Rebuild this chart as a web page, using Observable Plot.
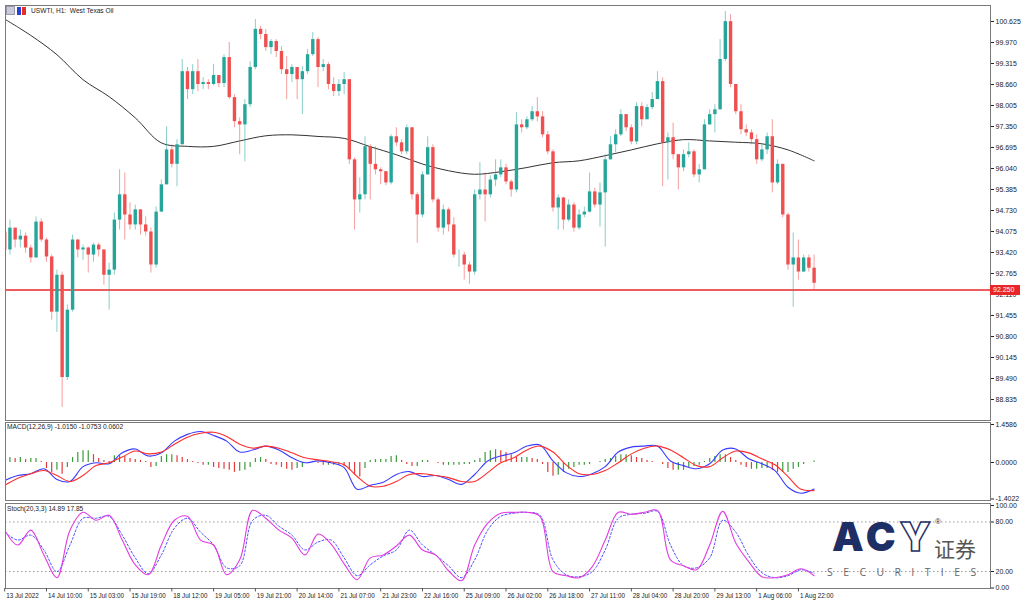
<!DOCTYPE html>
<html><head><meta charset="utf-8">
<script src="https://cdn.jsdelivr.net/npm/d3@7"></script>
<script src="https://cdn.jsdelivr.net/npm/@observablehq/plot@0.6"></script>
<style>
body{margin:0;background:#fff;}
#wrap{position:relative;width:1024px;height:605px;overflow:hidden;background:#fff;font-family:"Liberation Sans",Arial,sans-serif;}
#wrap svg{overflow:visible;}
.hdr{position:absolute;font-size:6.6px;color:#222;white-space:pre;}
#tag{position:absolute;z-index:5;background:#e8262a;color:#fff;font-size:7px;line-height:10px;height:10px;width:30px;padding-left:3px;box-sizing:border-box;}
</style></head><body><div id="wrap"></div>
<script>
// ---------------- DATA ----------------
const symbolTitle = "USWTI, H1:  West Texas Oil";
const macdTitle = "MACD(12,26,9) -1.0150 -1.0753 0.0602";
const stochTitle = "Stoch(20,3,3) 14.89 17.85";
const currentPrice = 92.250;

const xLabels = ["13 Jul 2022","14 Jul 10:00","15 Jul 03:00","15 Jul 19:00","18 Jul 12:00","19 Jul 05:00","19 Jul 21:00","20 Jul 14:00","21 Jul 07:00","21 Jul 23:00","22 Jul 16:00","25 Jul 09:00","26 Jul 02:00","26 Jul 18:00","27 Jul 11:00","28 Jul 04:00","28 Jul 20:00","29 Jul 13:00","1 Aug 06:00","1 Aug 22:00"];
const barsPerLabel = 8;

const priceTicks = [100.625,99.970,99.315,98.660,98.005,97.350,96.695,96.040,95.385,94.730,94.075,93.420,92.765,92.110,91.455,90.800,90.145,89.490,88.835];
const macdTicks = [1.4586, 0, -1.4022];
const stochTicks = [100, 80, 20, 0];
const stochLevels = [80, 20];

const firstOpen = 94.06;
const closes = [93.50,94.18,93.81,93.93,93.56,93.25,94.37,93.81,93.28,91.56,
92.71,89.52,91.62,93.81,93.50,93.56,93.34,93.65,93.50,92.71,
92.87,94.43,95.22,94.59,94.28,94.75,94.28,94.06,93.03,94.68,
95.53,96.62,96.17,96.78,99.06,98.50,99.06,98.66,98.72,98.66,
98.94,98.69,99.50,98.25,97.50,97.40,98.03,99.19,100.38,100.22,
99.81,100.00,99.69,99.12,98.97,99.19,98.81,99.06,99.59,100.06,
99.19,99.28,98.66,98.44,98.66,98.81,96.31,95.06,95.22,96.72,
96.17,96.00,95.94,95.59,97.03,96.84,96.56,97.31,95.22,94.59,
95.84,96.69,95.06,94.18,94.75,94.28,93.34,93.34,93.03,92.81,
95.22,95.37,95.22,95.68,95.84,96.06,95.62,95.37,97.40,97.31,
97.56,97.81,97.65,97.09,96.56,94.81,95.12,94.43,94.90,94.18,
94.59,94.68,95.31,94.90,95.28,96.31,96.78,97.09,97.72,97.31,
96.87,97.97,97.56,97.94,98.19,98.75,96.84,97.00,96.47,96.06,
96.47,96.56,95.84,96.00,97.40,97.72,97.87,99.44,100.62,98.66,
97.81,97.25,97.15,96.94,96.31,96.62,97.03,95.59,96.17,94.59,
93.03,93.25,92.81,93.25,92.93,92.46];
const highs = [94.68,94.43,94.18,94.12,94.03,93.65,94.53,94.47,93.87,93.34,
92.87,92.81,91.78,93.96,93.81,93.65,93.59,93.71,93.71,93.50,
93.09,94.65,96.00,95.90,94.97,94.90,94.75,94.53,94.18,94.84,
95.68,97.34,96.78,96.94,99.44,99.19,99.28,99.44,98.87,98.81,
99.28,98.87,99.59,99.97,98.34,97.62,98.19,99.37,100.69,100.47,
100.38,100.06,100.06,99.84,99.53,99.28,99.12,99.22,99.75,100.28,
100.12,99.44,99.34,98.87,98.81,99.03,98.81,96.37,95.75,97.03,
96.78,96.72,96.06,95.94,97.09,97.31,96.94,97.40,97.31,95.28,
95.94,97.03,96.78,95.12,94.90,94.81,94.50,93.50,93.43,93.12,
95.37,96.22,95.90,95.81,96.31,96.31,96.17,95.68,97.78,97.56,
97.65,97.97,98.25,97.81,97.19,96.62,95.22,95.15,95.06,94.97,
94.75,94.84,95.90,95.43,95.59,96.47,97.03,97.25,97.87,97.72,
97.40,98.09,98.09,98.03,98.41,99.06,98.87,97.15,97.46,96.47,
96.62,96.84,96.62,96.17,97.56,97.87,98.03,100.06,100.94,100.84,
98.66,98.03,97.40,97.25,97.09,96.78,97.15,97.56,96.31,96.17,
94.65,94.03,93.81,93.34,93.34,93.34];
const lows = [93.25,93.34,93.56,93.56,93.40,93.09,93.25,93.74,93.12,91.31,
90.93,88.59,89.43,91.56,93.25,93.18,92.78,93.12,93.28,92.40,
91.62,92.71,94.12,93.81,94.12,94.12,93.96,93.93,92.78,92.93,
94.68,95.53,96.06,95.47,96.78,98.19,98.34,98.44,98.50,98.50,
98.62,98.56,98.56,98.19,97.31,96.47,96.25,97.94,99.12,100.06,
99.69,99.59,99.50,98.97,98.19,98.72,98.19,97.72,98.97,99.53,
98.56,99.06,98.50,98.28,98.28,98.34,96.17,94.12,94.65,95.06,
95.06,95.84,95.53,95.50,95.53,96.72,96.47,96.47,95.06,93.71,
94.50,95.84,94.97,94.06,93.96,94.06,93.25,92.96,92.56,92.43,
92.71,95.06,94.37,95.12,95.47,95.75,95.53,95.15,95.28,97.15,
97.25,97.50,97.50,97.00,96.47,94.68,94.12,94.12,94.37,94.06,
94.12,94.50,94.65,94.81,94.21,93.59,96.31,96.53,97.03,97.19,
96.78,96.78,97.34,97.56,97.87,98.19,95.47,95.68,96.31,95.37,
95.94,96.37,95.75,95.59,96.00,97.40,97.15,97.87,99.37,98.56,
97.72,97.09,97.03,96.78,96.17,96.25,96.47,95.28,95.53,94.50,
92.87,91.71,92.56,92.81,92.81,92.24];

// moving average, one value every 5 bars (bars 0,5,...,155)
const maStep = 5;
const maValues = [100.70,100.19,99.59,98.81,98.28,97.62,96.84,96.73,96.73,96.90,
97.06,97.09,97.04,96.98,96.72,96.47,96.18,95.97,95.86,95.94,
96.07,96.22,96.28,96.44,96.62,96.81,96.94,96.90,96.86,96.81,
96.62,96.28];

// MACD lines, one value every 2.5 bars
const lineStep = 2.5;
const macdMain = [-0.69,-0.50,-0.43,-0.24,-0.65,-0.73,-0.16,-0.01,-0.05,0.37,
0.52,0.25,0.37,0.82,1.08,1.19,1.04,0.82,0.40,0.48,
0.63,0.48,0.18,-0.01,0.06,-0.01,-0.20,-1.03,-0.88,-0.76,
-0.46,-0.35,-0.54,-0.50,-0.65,-0.84,-0.46,0.06,0.25,0.37,
0.63,0.67,0.06,-0.39,-0.54,-0.43,-0.16,0.40,0.59,0.63,
0.63,0.06,-0.12,-0.24,-0.05,0.48,0.52,0.14,-0.05,-0.31,
-0.95,-1.18,-1.02];
const macdSignal = [-0.88,-0.61,-0.43,-0.31,-0.50,-0.73,-0.50,-0.12,-0.01,0.21,
0.44,0.33,0.40,0.70,0.97,1.12,1.16,1.00,0.70,0.55,
0.63,0.55,0.37,0.18,0.10,0.03,-0.09,-0.54,-0.91,-0.91,
-0.73,-0.46,-0.43,-0.50,-0.58,-0.73,-0.73,-0.39,-0.01,0.18,
0.48,0.63,0.40,-0.09,-0.43,-0.46,-0.31,-0.01,0.33,0.55,
0.63,0.48,0.18,-0.12,-0.16,0.18,0.44,0.37,0.14,-0.09,
-0.54,-1.03,-1.08];
// MACD histogram, one value per bar
const macdHist = [0.19,0.19,0.15,0.19,0.11,0.15,0.15,0.04,-0.23,-0.38,
-0.30,-0.45,-0.19,0.19,0.38,0.45,0.45,0.30,0.15,0.08,
0.04,0.26,0.26,0.23,0.15,0.11,0.08,0.04,-0.19,-0.15,
0.23,0.30,0.30,0.26,0.19,0.11,0.04,-0.04,-0.11,-0.11,
-0.19,-0.23,-0.26,-0.30,-0.38,-0.34,-0.30,-0.19,0.15,0.19,
0.11,-0.08,-0.11,-0.19,-0.26,-0.30,-0.23,-0.19,0.00,0.04,
-0.04,-0.11,-0.11,-0.11,-0.11,-0.15,-0.30,-0.49,-0.56,-0.23,
0.08,0.11,0.11,0.11,0.23,0.26,0.08,-0.08,-0.15,-0.15,
0.08,0.08,0.00,-0.04,-0.11,-0.11,-0.11,-0.11,-0.08,-0.08,
0.08,0.15,0.38,0.45,0.49,0.45,0.38,0.30,0.19,0.19,
0.19,0.15,0.11,-0.08,-0.38,-0.53,-0.49,-0.38,-0.26,-0.19,
-0.11,-0.11,-0.08,0.00,0.04,0.11,0.15,0.23,0.30,0.30,
0.26,0.19,0.15,0.08,0.04,0.00,-0.08,-0.23,-0.30,-0.30,
-0.30,-0.19,-0.15,-0.11,0.04,0.15,0.23,0.30,0.30,0.19,
0.08,-0.11,-0.19,-0.26,-0.26,-0.23,-0.23,-0.30,-0.38,-0.38,
-0.38,-0.26,-0.19,-0.08,0.00,0.06];

// Stochastic, one value every 2.5 bars
const stochK = [70.1,52.1,70.1,40.1,12.5,70.1,91.7,82.1,88.1,58.1,
28.1,16.1,52.1,82.1,86.9,58.1,52.1,16.1,34.1,94.1,
84.5,70.1,60.5,40.1,65.3,53.3,29.3,10.1,36.5,40.1,
50.9,64.1,46.1,40.1,20.9,8.9,52.1,78.5,90.5,91.7,
91.7,86.9,19.7,14.9,12.5,25.7,58.1,91.7,89.3,91.7,
94.1,34.1,26.9,22.1,52.1,92.9,54.5,31.7,13.7,12.5,
16.1,23.3,14.89];
const stochD = [67.7,58.1,64.1,46.1,19.7,52.1,84.5,84.5,86.9,64.1,
36.5,17.3,40.1,72.5,84.5,67.7,52.1,24.5,26.9,82.1,
88.1,74.9,64.1,46.1,55.7,58.1,36.5,14.9,28.1,38.9,
46.1,70.1,52.1,40.1,26.9,12.5,34.1,70.1,86.9,90.5,
91.7,88.1,34.1,16.1,13.7,19.7,46.1,84.5,89.3,90.5,
92.9,52.1,26.9,24.5,36.5,82.1,67.7,38.9,18.5,12.5,
14.9,22.1,17.85];

// ---------------- LAYOUT / STYLE ----------------
const BULL = "#26a69a", BEAR = "#ef4f4f";
const FONT = "'Liberation Sans', Arial, sans-serif";
const X_DOMAIN = [0.153, 188.78];
const wrap = document.getElementById("wrap");
function place(el, top){ el.style.position="absolute"; el.style.left="0px"; el.style.top=top+"px"; wrap.appendChild(el); }
const baseStyle = {fontFamily: FONT, fontSize: "7px", color: "#222", background: "transparent", overflow: "visible"};

const bars = closes.map((c, i) => ({
  i, open: i === 0 ? firstOpen : closes[i-1], close: c, high: highs[i], low: lows[i]
}));
bars.forEach(b => { b.col = b.close >= b.open ? BULL : BEAR; });
const maData = maValues.map((v, k) => ({i: k*maStep, v}));
const macdData = macdMain.map((v, k) => ({i: k*lineStep, m: v, s: macdSignal[k]}));
const histData = macdHist.map((v, i) => ({i, v, col: (i > 0 && v < macdHist[i-1]) ? "#e23b3b" : "#3c9a3c"}));
const stochData = stochK.map((v, k) => ({i: k*lineStep, k: v, d: stochD[k]}));

// ---- main price panel ----
const MAIN_TOP = 4;
const main = Plot.plot({
  width: 1024, height: 417, marginTop: 1, marginBottom: 1, marginLeft: 5, marginRight: 34,
  style: baseStyle,
  x: {domain: X_DOMAIN, axis: null},
  y: {domain: [88.180, 101.124], axis: "right", ticks: priceTicks, tickFormat: d => d.toFixed(3), tickSize: 3, tickPadding: 2, label: null},
  color: {type: "identity"},
  marks: [
    Plot.ruleY([currentPrice], {stroke: "#e8262a", strokeWidth: 1.6}),
    Plot.line(maData, {x: "i", y: "v", stroke: "#333", strokeWidth: 1, curve: "catmull-rom", clip: true}),
    Plot.ruleX(bars, {x: "i", y1: "low", y2: "high", stroke: "col", strokeOpacity: 0.55, strokeWidth: 1, clip: true}),
    Plot.ruleX(bars, {x: "i", y1: "open", y2: "close", stroke: "col", strokeWidth: 3.4, clip: true}),
    Plot.frame({stroke: "#7a7a7a"})
  ]
});
place(main, MAIN_TOP);
{
  const yy = main.scale("y").apply(currentPrice);
  const tag = document.createElement("div");
  tag.id = "tag";
  tag.textContent = currentPrice.toFixed(3);
  tag.style.left = "990px";
  tag.style.top = (MAIN_TOP + yy - 5) + "px";
  wrap.appendChild(tag);
}

// ---- MACD panel ----
const macdPlot = Plot.plot({
  width: 1024, height: 80, marginTop: 1, marginBottom: 1, marginLeft: 5, marginRight: 34,
  style: baseStyle,
  x: {domain: X_DOMAIN, axis: null},
  y: {domain: [-1.4598, 1.5354], axis: "right", ticks: macdTicks, tickFormat: d => d.toFixed(4), tickSize: 3, tickPadding: 2, label: null},
  color: {type: "identity"},
  marks: [
    Plot.ruleX(histData, {x: "i", y1: 0, y2: "v", stroke: "col", strokeWidth: 1.2, clip: true}),
    Plot.line(macdData, {x: "i", y: "m", stroke: "#3a3aff", strokeWidth: 1.1, curve: "catmull-rom", clip: true}),
    Plot.line(macdData, {x: "i", y: "s", stroke: "#ff2d2d", strokeWidth: 1.1, curve: "catmull-rom", clip: true}),
    Plot.frame({stroke: "#7a7a7a"})
  ]
});
place(macdPlot, 421);

// ---- Stochastic panel ----
const stochPlot = Plot.plot({
  width: 1024, height: 103, marginTop: 1, marginBottom: 17, marginLeft: 5, marginRight: 34,
  style: baseStyle,
  x: {domain: X_DOMAIN, axis: null},
  y: {domain: [-0.6, 102.4], axis: "right", ticks: stochTicks, tickFormat: d => d.toFixed(2), tickSize: 3, tickPadding: 2, label: null},
  marks: [
    Plot.ruleY(stochLevels, {stroke: "#9a9a9a", strokeDasharray: "1.5,2.5", strokeWidth: 1}),
    Plot.line(stochData, {x: "i", y: "d", stroke: "#4a4aff", strokeWidth: 1, strokeDasharray: "2,2", curve: "catmull-rom", clip: true}),
    Plot.line(stochData, {x: "i", y: "k", stroke: "#e23ce0", strokeWidth: 1.1, curve: "catmull-rom", clip: true}),
    Plot.frame({stroke: "#7a7a7a"}),
    Plot.ruleX(xLabels, {x: (d, i) => i * barsPerLabel, y1: -0.6, y2: -4.8, stroke: "#555", strokeWidth: 1}),
    Plot.text(xLabels, {x: (d, i) => i * barsPerLabel, y: -9.6, text: d => d, textAnchor: "start", dx: 1.5, fontSize: 6.3, fill: "#222"})
  ]
});
place(stochPlot, 502);

// ---- headers ----
function hdr(text, left, top){ const d = document.createElement("div"); d.className = "hdr"; d.textContent = text; d.style.left = left + "px"; d.style.top = top + "px"; wrap.appendChild(d); return d; }
const icon = document.createElement("div");
icon.style.cssText = "position:absolute;left:6px;top:6px;width:22px;height:9px;";
icon.innerHTML = '<span style="position:absolute;left:0;top:0;width:9px;height:9px;background:#c9c9d8;border:1px solid #9a9ab0;box-sizing:border-box"></span>' +
  '<span style="position:absolute;left:11px;top:1px;width:4px;height:8px;background:#2b3fd6"></span>' +
  '<span style="position:absolute;left:16px;top:1px;width:4px;height:8px;background:#e23030"></span>';
wrap.appendChild(icon);
hdr(symbolTitle, 31, 7);
hdr(macdTitle, 7, 423);
hdr(stochTitle, 7, 505);

// ---- logo ----
const logo = document.createElement("div");
logo.style.cssText = "position:absolute;left:830px;top:512px;width:170px;height:72px;";
logo.innerHTML =
  '<div style="position:absolute;left:2px;top:2px;font-family:Inter,Lato,sans-serif;font-weight:900;font-size:40px;letter-spacing:4px;color:#1e2f66;line-height:46px">AC<span style="color:transparent;-webkit-text-stroke:1.5px #1e2f66">Y</span></div>' +
  '<div style="position:absolute;left:105px;top:5px;font-size:8px;color:#333">&reg;</div>' +
  '<div style="position:absolute;left:104px;top:23px;font-family:\'Noto Sans CJK SC\',sans-serif;font-size:21px;color:#555;line-height:26px">证券</div>' +
  '<div style="position:absolute;left:-3px;top:53px;font-family:\'Open Sans\',sans-serif;font-size:10.5px;letter-spacing:10.4px;color:#666">SECURITIES</div>';
wrap.appendChild(logo);
</script></body></html>
